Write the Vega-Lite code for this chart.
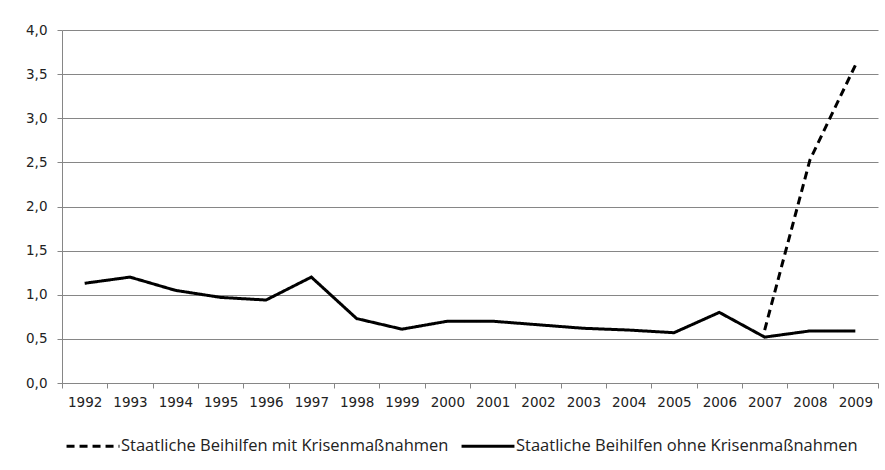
{
  "$schema": "https://vega.github.io/schema/vega-lite/v6.json",
  "width": 816,
  "height": 353,
  "autosize": {"type": "none"},
  "padding": {"left": 62, "top": 30, "right": 7, "bottom": 87},
  "background": "white",
  "config": {
    "view": {"stroke": null},
    "font": "Open Sans",
    "axis": {"labelFont": "DejaVu Sans", "labelFontSize": 13.5, "labelColor": "#222222", "domainColor": "#868686", "tickColor": "#868686", "gridColor": "#868686", "gridOpacity": 1}
  },
  "data": {
    "values": [
      {"year": "1992", "series": "Staatliche Beihilfen ohne Krisenmaßnahmen", "value": 1.13},
      {"year": "1993", "series": "Staatliche Beihilfen ohne Krisenmaßnahmen", "value": 1.2},
      {"year": "1994", "series": "Staatliche Beihilfen ohne Krisenmaßnahmen", "value": 1.05},
      {"year": "1995", "series": "Staatliche Beihilfen ohne Krisenmaßnahmen", "value": 0.97},
      {"year": "1996", "series": "Staatliche Beihilfen ohne Krisenmaßnahmen", "value": 0.94},
      {"year": "1997", "series": "Staatliche Beihilfen ohne Krisenmaßnahmen", "value": 1.2},
      {"year": "1998", "series": "Staatliche Beihilfen ohne Krisenmaßnahmen", "value": 0.73},
      {"year": "1999", "series": "Staatliche Beihilfen ohne Krisenmaßnahmen", "value": 0.61},
      {"year": "2000", "series": "Staatliche Beihilfen ohne Krisenmaßnahmen", "value": 0.7},
      {"year": "2001", "series": "Staatliche Beihilfen ohne Krisenmaßnahmen", "value": 0.7},
      {"year": "2002", "series": "Staatliche Beihilfen ohne Krisenmaßnahmen", "value": 0.66},
      {"year": "2003", "series": "Staatliche Beihilfen ohne Krisenmaßnahmen", "value": 0.62},
      {"year": "2004", "series": "Staatliche Beihilfen ohne Krisenmaßnahmen", "value": 0.6},
      {"year": "2005", "series": "Staatliche Beihilfen ohne Krisenmaßnahmen", "value": 0.57},
      {"year": "2006", "series": "Staatliche Beihilfen ohne Krisenmaßnahmen", "value": 0.8},
      {"year": "2007", "series": "Staatliche Beihilfen ohne Krisenmaßnahmen", "value": 0.52},
      {"year": "2008", "series": "Staatliche Beihilfen ohne Krisenmaßnahmen", "value": 0.59},
      {"year": "2009", "series": "Staatliche Beihilfen ohne Krisenmaßnahmen", "value": 0.59},
      {"year": "2007", "series": "Staatliche Beihilfen mit Krisenmaßnahmen", "value": 0.6},
      {"year": "2008", "series": "Staatliche Beihilfen mit Krisenmaßnahmen", "value": 2.53},
      {"year": "2009", "series": "Staatliche Beihilfen mit Krisenmaßnahmen", "value": 3.6}
    ]
  },
  "mark": {"type": "line", "strokeWidth": 3, "color": "black", "strokeCap": "butt", "strokeJoin": "miter"},
  "encoding": {
    "x": {
      "field": "year", "type": "ordinal", "bandPosition": 0.5,
      "scale": {"type": "band", "paddingInner": 0, "paddingOuter": 0},
      "axis": {"title": null, "labelAngle": 0, "tickBand": "extent", "tickSize": 5, "labelPadding": 7, "grid": false}
    },
    "y": {
      "field": "value", "type": "quantitative",
      "scale": {"domain": [0, 4], "nice": false},
      "axis": {"title": null, "values": [0, 0.5, 1, 1.5, 2, 2.5, 3, 3.5, 4], "format": ".1f", "formatType": "number", "labelExpr": "replace(datum.label, '.', ',')", "tickSize": 5, "labelPadding": 10, "grid": true}
    },
    "detail": {"field": "series"},
    "strokeDash": {
      "field": "series", "type": "nominal",
      "scale": {"domain": ["Staatliche Beihilfen mit Krisenmaßnahmen", "Staatliche Beihilfen ohne Krisenmaßnahmen"], "range": [[8, 5], [1, 0]]},
      "legend": {"title": null, "orient": "none", "legendX": 3, "legendY": 388, "direction": "horizontal", "symbolType": "stroke", "symbolStrokeWidth": 3, "symbolStrokeColor": "black", "symbolSize": 2800, "labelFontSize": 16.5, "labelFont": "Open Sans", "labelColor": "#222222", "labelLimit": 0, "columnPadding": 6, "labelOffset": 0}
    }
  }
}
